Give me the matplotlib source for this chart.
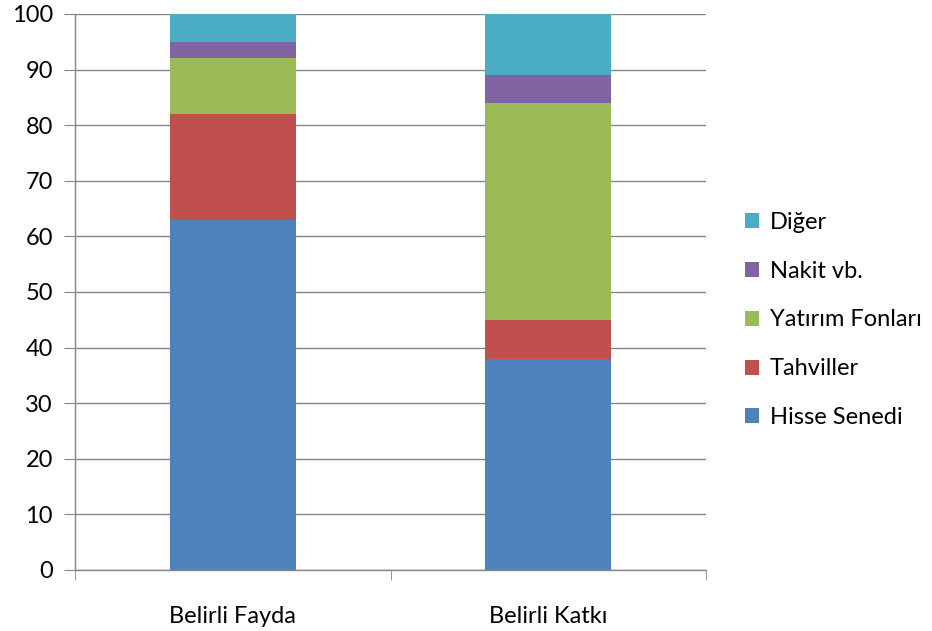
import numpy as np
import matplotlib.pyplot as plt

plt.rcParams['font.family'] = ['Lato', 'DejaVu Sans']

categories = ["Belirli Fayda", "Belirli Katkı"]
series_names = ["Hisse Senedi", "Tahviller", "Yatırım Fonları", "Nakit vb.", "Diğer"]
hisse = [63, 38]
tahvil = [19, 7]
yatirim = [10, 39]
nakit = [3, 5]
diger = [5, 11]
colors = ["#4f81bd", "#c0504d", "#9bbb59", "#8064a2", "#4bacc6"]

fig = plt.figure(figsize=(9.32, 6.31), dpi=100)
ax = fig.add_axes([75 / 932, 61 / 631, 631 / 932, 556 / 631])

x = np.arange(len(categories))
bottom = np.zeros(len(categories))
handles = []
for name, vals, c in zip(series_names, [hisse, tahvil, yatirim, nakit, diger], colors):
    b = ax.bar(x, vals, 0.4, bottom=bottom, color=c, label=name, zorder=2)
    handles.append(b)
    bottom += np.array(vals)

ax.set_xlim(-0.5, 1.5)
ax.set_ylim(0, 100)
ax.set_yticks(range(0, 101, 10))
ax.yaxis.grid(True, color="#868686", linewidth=1, zorder=0)
ax.set_axisbelow(True)

for s in ["top", "right"]:
    ax.spines[s].set_visible(False)
for s in ["left", "bottom"]:
    ax.spines[s].set_color("#868686")
    ax.spines[s].set_linewidth(1)

ax.set_xticks(x)
ax.set_xticklabels(categories, fontsize=17)
ax.set_xticks([-0.5, 0.5, 1.5], minor=True)
ax.tick_params(axis="x", which="major", length=0, pad=26)
ax.tick_params(axis="x", which="minor", length=7, color="#868686")
ax.tick_params(axis="y", length=8, color="#868686", labelsize=17, pad=8)

leg = fig.legend(handles[::-1], series_names[::-1], loc="center left",
                 bbox_to_anchor=(724 / 932, 1 - 320 / 631), frameon=False,
                 fontsize=17, handlelength=0.6, handleheight=0.6,
                 handletextpad=0.45, labelspacing=1.18)

fig.savefig("out.png", dpi=100)
